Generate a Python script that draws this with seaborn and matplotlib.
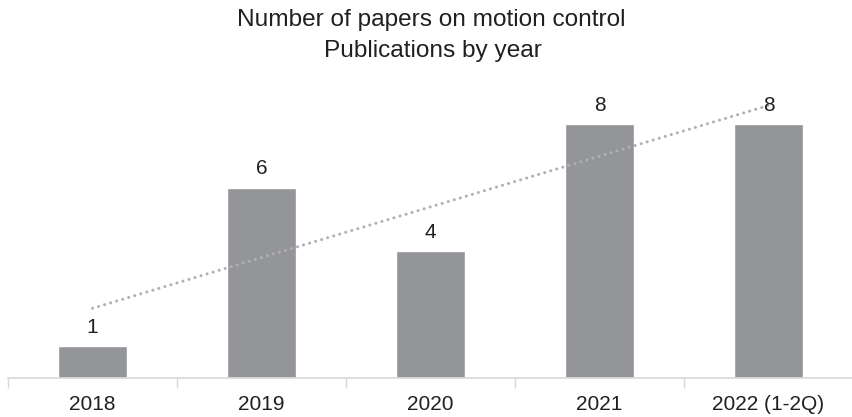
import numpy as np
import pandas as pd
import matplotlib
matplotlib.use("Agg")
import matplotlib.pyplot as plt
import seaborn as sns

# dados
anos = ["2018", "2019", "2020", "2021", "2022 (1-2Q)"]
publicacoes = [1, 6, 4, 8, 8]

df = pd.DataFrame({"ano": anos, "publicacoes": publicacoes})

sns.set_theme(style="white")
plt.rcParams['font.family'] = ['Liberation Sans', 'DejaVu Sans']

cor_texto = "#231f20"
cor_barra = "#939598"

fig = plt.figure(figsize=(8.53, 4.17), dpi=100)
ax = fig.add_axes([0.0094, 0.0935, 0.9906, 0.76])

sns.barplot(data=df, x="ano", y="publicacoes", color=cor_barra,
            width=0.41, saturation=1, ax=ax)

# rótulos de valor
for cont in ax.containers:
    ax.bar_label(cont, padding=7, fontsize=15, color=cor_texto)

# linha de tendência linear
x = np.arange(len(anos))
coef = np.polyfit(x, publicacoes, 1)
ax.plot(x, np.polyval(coef, x), linestyle=(0, (0.01, 2.05)),
        dash_capstyle="round", color="#b0b0b0", linewidth=2.2)

ax.set_xlim(-0.5, len(anos) - 0.5)
ax.set_ylim(0, 10)
ax.set_xlabel("")
ax.set_ylabel("")
ax.set_yticks([])
ax.tick_params(axis="x", which="major", length=0, labelsize=15,
               labelcolor=cor_texto, pad=12)
ax.set_xticks(np.arange(-0.5, len(anos), 1), minor=True)
ax.tick_params(axis="x", which="minor", bottom=True, length=7,
               color="#d9d9d9", width=1)
for lado in ["top", "right", "left"]:
    ax.spines[lado].set_visible(False)
ax.spines["bottom"].set_color("#d9d9d9")

fig.text(0.505, 0.952, "Number of papers on motion control", ha="center",
         va="center", fontsize=17.6, color=cor_texto)
fig.text(0.508, 0.877, "Publications by year", ha="center", va="center",
         fontsize=17.6, color=cor_texto)

fig.savefig("out.png", dpi=100)
